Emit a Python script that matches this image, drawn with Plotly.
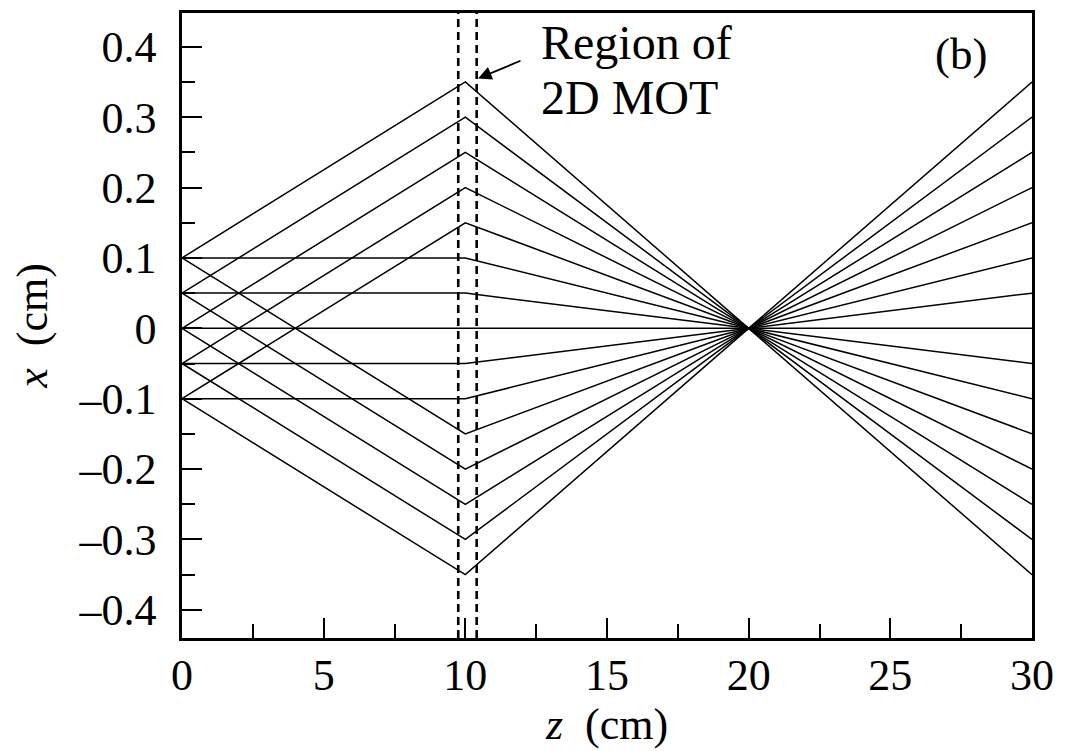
import plotly.graph_objects as go

# Ray positions (cm) at each z-plane: source (z=0), 2D MOT (z=10), focus (z=20), exit (z=30)
z_planes = [0, 10, 20, 30]
x_at_z0 = [0.1, 0.05, 0, -0.05, -0.1,
           0.1, 0.05, 0, -0.05, -0.1,
           0.1, 0.05, 0, -0.05, -0.1]
x_at_z10 = [0.35, 0.3, 0.25, 0.2, 0.15,
            0.1, 0.05, 0, -0.05, -0.1,
            -0.15, -0.2, -0.25, -0.3, -0.35]
x_at_z20 = [0] * 15
x_at_z30 = [-0.35, -0.3, -0.25, -0.2, -0.15,
            -0.1, -0.05, 0, 0.05, 0.1,
            0.15, 0.2, 0.25, 0.3, 0.35]

# Extent of the 2D MOT region along z (cm)
mot_region = [9.75, 10.4]

y_ticks = [-0.4, -0.3, -0.2, -0.1, 0, 0.1, 0.2, 0.3, 0.4]
y_ticktext = ["\u20130.4", "\u20130.3", "\u20130.2", "\u20130.1", "0", "0.1", "0.2", "0.3", "0.4"]
x_ticks = [0, 5, 10, 15, 20, 25, 30]

FONT = "'Liberation Serif', 'Times New Roman', Times, serif"

fig = go.Figure()
for a, b, c, d in zip(x_at_z0, x_at_z10, x_at_z20, x_at_z30):
    fig.add_trace(go.Scatter(
        x=z_planes, y=[a, b, c, d], mode="lines",
        line=dict(color="black", width=1.5), showlegend=False, hoverinfo="skip",
    ))

for zc in mot_region:
    fig.add_shape(type="line", xref="x", yref="paper", x0=zc, x1=zc, y0=0, y1=1,
                  line=dict(color="black", width=2.6, dash="8px,5px"))

fig.add_annotation(x=mot_region[1] + 0.05, y=0.355, xref="x", yref="y",
                   ax=12.0, ay=0.381, axref="x", ayref="y",
                   text="", showarrow=True, arrowhead=2, arrowsize=1.5,
                   arrowwidth=1.8, arrowcolor="black")
fig.add_annotation(x=12.6, y=0.406, xref="x", yref="y", xanchor="left", yanchor="middle",
                   text="Region of", showarrow=False,
                   font=dict(family=FONT, size=48, color="black"))
fig.add_annotation(x=12.6, y=0.328, xref="x", yref="y", xanchor="left", yanchor="middle",
                   text="2D MOT", showarrow=False,
                   font=dict(family=FONT, size=48, color="black"))
fig.add_annotation(x=27.5, y=0.39, xref="x", yref="y", xanchor="center", yanchor="middle",
                   text="(b)", showarrow=False,
                   font=dict(family=FONT, size=45, color="black"))

fig.update_layout(
    width=1067, height=751,
    margin=dict(l=182, r=35, t=10, b=113),
    paper_bgcolor="white", plot_bgcolor="white",
    font=dict(family=FONT, size=44, color="black"),
    xaxis=dict(
        range=[0, 30], tickvals=x_ticks, ticks="inside", ticklen=20, tickwidth=2,
        tickcolor="black", showline=True, linewidth=2.5, linecolor="black", mirror=True,
        showgrid=False, zeroline=False, ticklabelstandoff=-4,
        minor=dict(dtick=2.5, tick0=0, ticks="inside", ticklen=14, tickwidth=2, tickcolor="black", showgrid=False),
        title=dict(text="<i>z</i>  (cm)", font=dict(family=FONT, size=44), standoff=8),
    ),
    yaxis=dict(
        range=[-0.44, 0.448], tickvals=y_ticks, ticktext=y_ticktext, ticks="inside",
        ticklen=20, tickwidth=2, tickcolor="black", showline=True, linewidth=2.5,
        linecolor="black", mirror=True, showgrid=False, zeroline=False, ticklabelstandoff=14,
        minor=dict(dtick=0.05, tick0=0, ticks="inside", ticklen=13, tickwidth=2, tickcolor="black", showgrid=False),
        title=dict(text="<i>x</i>  (cm)", font=dict(family=FONT, size=44), standoff=18),
    ),
)

fig.write_html("out.html")
